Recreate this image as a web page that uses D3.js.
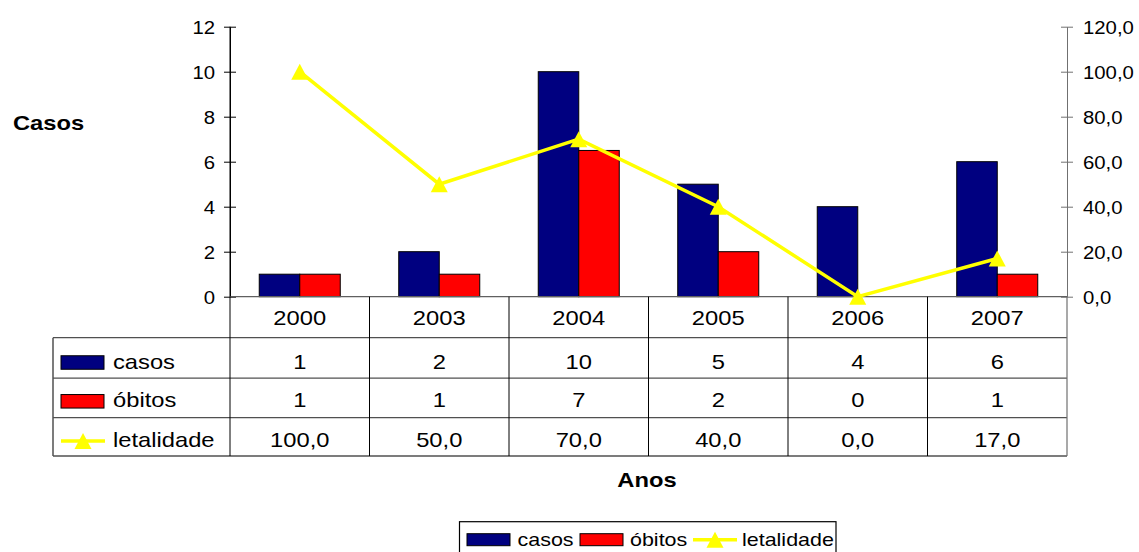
<!DOCTYPE html>
<html>
<head>
<meta charset="utf-8">
<script src="https://cdn.jsdelivr.net/npm/d3@7"></script>
<style>
  html, body { margin: 0; padding: 0; background: #fff; }
  svg { display: block; font-family: "Liberation Sans", Arial, sans-serif; }
</style>
</head>
<body>
<svg id="chart" width="1139" height="552"></svg>
<script>
// Casos, óbitos e letalidade por ano
const years = ["2000", "2003", "2004", "2005", "2006", "2007"];
const casos = [1, 2, 10, 5, 4, 6];
const obitos = [1, 1, 6.5, 2, 0, 1];
const letalidade = [100, 50, 70, 40, 0, 17];
const leftTicks = [0, 2, 4, 6, 8, 10, 12];
const rightTicks = [0, 20, 40, 60, 80, 100, 120];
const seriesNames = ["casos", "óbitos", "letalidade"];
const seriesColors = ["#000080", "#FF0000", "#FFFF00"];

const SX = 1.13; // horizontal text stretch
const ptBR = d3.formatLocale({ decimal: ",", thousands: ".", grouping: [3], currency: ["R$", ""] });
const fmt1 = ptBR.format(".1f");
const fmt0 = ptBR.format(".0f");

const svg = d3.select("#chart");
svg.append("rect").attr("width", 1139).attr("height", 552).attr("fill", "#fff");

const plotLeft = 230, plotRight = 1067, plotTop = 26.7, plotBottom = 296.7;
const tableLeft = 53;
const rowLines = [plotBottom, 337.7, 378.2, 417.7, 456];
const baselines = [325, 368.5, 407, 446.5];

const x = d3.scaleBand().domain(years).range([plotLeft, plotRight]).paddingInner(0).paddingOuter(0);
const bw = x.bandwidth();
const groupW = 81;
const xs = d3.scaleBand().domain(["casos", "óbitos"]).range([-groupW / 2, groupW / 2]);
const yL = d3.scaleLinear().domain([0, 12]).range([plotBottom, plotTop]);
const yR = d3.scaleLinear().domain([0, 120]).range([plotBottom, plotTop]);

function label(parent, px, py, s, size, anchor, weight) {
  return parent.append("text")
    .attr("transform", `translate(${px},${py}) scale(${SX},1)`)
    .attr("text-anchor", anchor || "start")
    .style("font-size", size + "px")
    .style("font-weight", weight || "normal")
    .attr("fill", "#000")
    .text(s);
}

// bars
const bars = svg.append("g");
const barData = [];
years.forEach((yr, i) => {
  barData.push({ yr, s: "casos", v: casos[i], c: seriesColors[0] });
  barData.push({ yr, s: "óbitos", v: obitos[i], c: seriesColors[1] });
});
bars.selectAll("rect").data(barData.filter(d => d.v > 0)).join("rect")
  .attr("x", d => x(d.yr) + bw / 2 + xs(d.s))
  .attr("y", d => yL(d.v))
  .attr("width", xs.bandwidth())
  .attr("height", d => yL(0) - yL(d.v))
  .attr("fill", d => d.c)
  .attr("stroke", "#000")
  .attr("stroke-width", 1);

// left axis
const axL = svg.append("g").attr("transform", `translate(${plotLeft},0)`)
  .call(d3.axisLeft(yL).tickValues(leftTicks).tickSize(6).tickSizeOuter(0).tickFormat(d3.format("d")));
axL.select(".domain").attr("stroke", "#000");
axL.selectAll(".tick line").attr("x1", 6).attr("stroke", "#000");
axL.selectAll(".tick text")
  .attr("x", -15 / SX).attr("dy", "0.36em")
  .attr("transform", `scale(${SX},1)`)
  .style("font-size", "18px").style("font-family", "'Liberation Sans', Arial, sans-serif").attr("fill", "#000");

// right axis
const axR = svg.append("g").attr("transform", `translate(${plotRight},0)`)
  .call(d3.axisRight(yR).tickValues(rightTicks).tickSize(6).tickSizeOuter(0).tickFormat(fmt1));
axR.select(".domain").attr("stroke", "#707070");
axR.selectAll(".tick line").attr("x1", -6).attr("stroke", "#707070");
axR.selectAll(".tick text")
  .attr("x", 16 / SX).attr("dy", "0.36em")
  .attr("transform", `scale(${SX},1)`)
  .style("font-size", "18px").style("font-family", "'Liberation Sans', Arial, sans-serif").attr("fill", "#000");

// data table
const tbl = svg.append("g");
// horizontal rules
rowLines.forEach((ly, i) => {
  tbl.append("line")
    .attr("x1", i === 0 ? plotLeft : tableLeft).attr("x2", plotRight)
    .attr("y1", ly).attr("y2", ly)
    .attr("stroke", i === 0 ? "#606060" : "#505050").attr("stroke-width", i === 4 ? 1.5 : 1.2);
});
// vertical rules
x.domain().forEach(yr => {
  tbl.append("line").attr("x1", x(yr)).attr("x2", x(yr))
    .attr("y1", x(yr) === plotLeft ? plotTop : plotBottom).attr("y2", rowLines[4])
    .attr("stroke", "#000").attr("stroke-width", 1);
});
tbl.append("line").attr("x1", plotRight).attr("x2", plotRight)
  .attr("y1", plotBottom).attr("y2", rowLines[4]).attr("stroke", "#707070").attr("stroke-width", 1.2);
tbl.append("line").attr("x1", tableLeft).attr("x2", tableLeft)
  .attr("y1", rowLines[1]).attr("y2", rowLines[4]).attr("stroke", "#505050").attr("stroke-width", 1.5);

// header and cell values
years.forEach((yr, i) => {
  const cx = x(yr) + bw / 2;
  label(tbl, cx, baselines[0], yr, 21, "middle");
  label(tbl, cx, baselines[1], fmt0(casos[i]), 21, "middle");
  label(tbl, cx, baselines[2], fmt0(obitos[i]), 21, "middle");
  label(tbl, cx, baselines[3], fmt1(letalidade[i]), 21, "middle");
});

const tri = "M0,-8L8.5,8L-8.5,8Z";

// row keys
function keys(parent, kx, ky, names, size, gap) {
  // kx: array of key x positions, ky: array of center y, gap: text offset
  names.forEach((n, i) => {
    if (i < 2) {
      parent.append("rect").attr("x", kx[i]).attr("y", ky[i] - size.h / 2)
        .attr("width", 43).attr("height", size.h)
        .attr("fill", seriesColors[i]).attr("stroke", "#000").attr("stroke-width", 1);
    } else {
      parent.append("line").attr("x1", kx[i]).attr("x2", kx[i] + 44)
        .attr("y1", ky[i]).attr("y2", ky[i])
        .attr("stroke", seriesColors[2]).attr("stroke-width", 3.5);
      parent.append("path").attr("d", tri)
        .attr("transform", `translate(${kx[i] + 22},${ky[i]})`)
        .attr("fill", seriesColors[2]);
    }
  });
}
keys(tbl, [61, 61, 61], [362.5, 401.3, 441], seriesNames, { h: 13.5 });
seriesNames.forEach((n, i) => label(tbl, 113, baselines[i + 1], n, 21, "start"));

// letalidade line (right axis)
const line = d3.line().x((d, i) => x(years[i]) + bw / 2).y(d => yR(d));
svg.append("path").datum(letalidade).attr("d", line)
  .attr("fill", "none").attr("stroke", seriesColors[2]).attr("stroke-width", 3.5)
  .attr("stroke-linejoin", "miter");
svg.append("g").selectAll("path").data(letalidade).join("path")
  .attr("d", tri)
  .attr("transform", (d, i) => `translate(${x(years[i]) + bw / 2},${yR(d)})`)
  .attr("fill", seriesColors[2]);

// axis titles
label(svg, 13, 130, "Casos", 21, "start", "bold");
label(svg, 647, 486.5, "Anos", 21, "middle", "bold");

// legend
const leg = svg.append("g");
leg.append("rect").attr("x", 459.5).attr("y", 521.7).attr("width", 376.5).attr("height", 40)
  .attr("fill", "#fff").attr("stroke", "#000").attr("stroke-width", 1.2);
keys(leg, [467, 580, 693], [539.7, 539.7, 539.7], seriesNames, { h: 12 });
label(leg, 517.5, 546, seriesNames[0], 19, "start");
label(leg, 630, 546, seriesNames[1], 19, "start");
label(leg, 742, 546, seriesNames[2], 19, "start");
</script>
</body>
</html>
